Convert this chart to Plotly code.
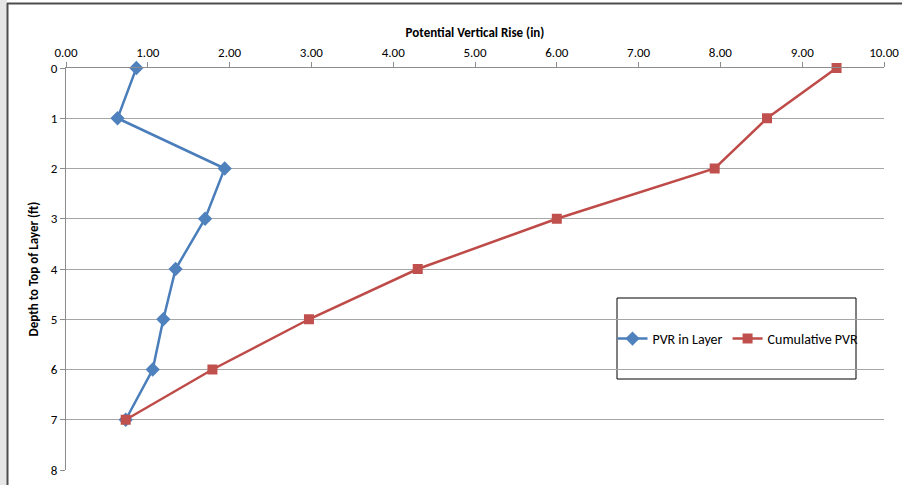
import plotly.graph_objects as go

depth = [0, 1, 2, 3, 4, 5, 6, 7]
pvr_layer = [0.86, 0.63, 1.94, 1.70, 1.34, 1.19, 1.06, 0.73]
pvr_cum = [9.42, 8.57, 7.93, 6.00, 4.30, 2.97, 1.79, 0.73]

W, H = 902, 485
L, R, T, B = 66, 18, 68, 15
pw, ph = W - L - R, H - T - B

def px(x):
    return (x - L) / pw

def py(y):
    return (H - B - y) / ph

FONT = "Carlito, Calibri, Lato, sans-serif"

fig = go.Figure()
fig.add_trace(go.Scatter(
    x=pvr_layer, y=depth, mode="lines+markers", name="PVR in Layer",
    line=dict(color="#4A7EBB", width=2.5), cliponaxis=False,
    marker=dict(symbol="diamond", size=11, color="#4F81BD", line=dict(width=0)),
))
fig.add_trace(go.Scatter(
    x=pvr_cum, y=depth, mode="lines+markers", name="Cumulative PVR",
    line=dict(color="#BE4B48", width=2.5), cliponaxis=False,
    marker=dict(symbol="square", size=10, color="#C0504D", line=dict(width=0)),
))

fig.update_layout(
    width=W, height=H,
    margin=dict(l=L, r=R, t=T, b=B, autoexpand=False),
    paper_bgcolor="white", plot_bgcolor="white",
    font=dict(family=FONT, size=13, color="#000000"),
    xaxis=dict(
        side="top", range=[0, 10], dtick=1, tick0=0, tickformat=".2f",
        showgrid=False, zeroline=False, showline=True, linecolor="#8C8C8C", linewidth=1,
        ticks="outside", ticklen=5, tickcolor="#8C8C8C", tickfont=dict(size=13),
        title=dict(text="<b>Potential Vertical Rise (in)</b>", font=dict(size=13), standoff=4),
    ),
    yaxis=dict(
        range=[8, 0], dtick=1, tick0=0,
        showgrid=True, gridcolor="#A6A6A6", gridwidth=1, zeroline=False,
        showline=True, linecolor="#8C8C8C", linewidth=1,
        ticks="outside", ticklen=5, tickcolor="#8C8C8C", tickfont=dict(size=13),
        title=dict(text="<b>Depth to Top of Layer (ft)</b>", font=dict(size=13), standoff=9),
    ),
    showlegend=True,
    legend=dict(
        orientation="h", x=px(738), y=py(339), xanchor="center", yanchor="middle",
        bgcolor="rgba(0,0,0,0)", borderwidth=0, font=dict(size=14),
        itemwidth=30, tracegroupgap=0,
    ),
    shapes=[
        dict(type="rect", xref="paper", yref="paper", x0=px(617), x1=px(856), y0=py(379), y1=py(298),
             line=dict(color="#000000", width=1), fillcolor="white", layer="below"),
        dict(type="rect", xref="paper", yref="paper", x0=px(0), x1=px(7), y0=py(485), y1=py(0),
             line=dict(width=0), fillcolor="#E6E6E6", layer="below"),
        dict(type="line", xref="paper", yref="paper", x0=px(7.5), x1=px(7.5), y0=py(485), y1=py(3),
             line=dict(color="#4D4D4D", width=2)),
        dict(type="line", xref="paper", yref="paper", x0=px(7), x1=px(902), y0=py(3.5), y1=py(3.5),
             line=dict(color="#4D4D4D", width=2)),
        dict(type="line", xref="paper", yref="paper", x0=px(6.5), x1=px(6.5), y0=py(485), y1=py(3),
             line=dict(color="#9A9A9A", width=1)),
    ],
)

fig.write_html(
    "out.html",
    config={"displayModeBar": False},
    post_script="document.body.style.margin='0px';document.body.style.overflow='hidden';",
)
